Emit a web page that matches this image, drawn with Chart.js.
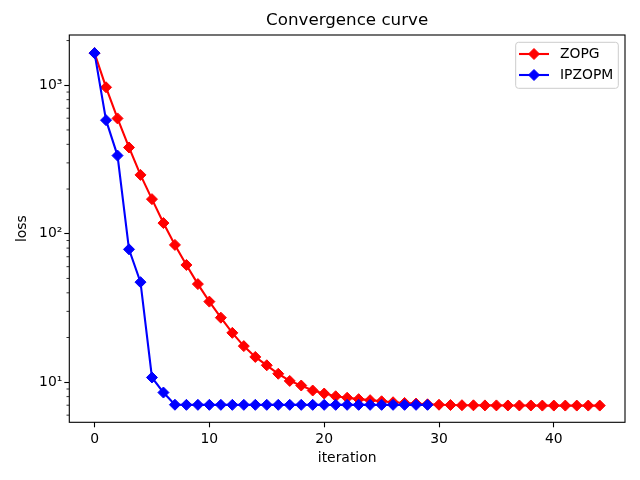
<!DOCTYPE html>
<html>
<head>
<meta charset="utf-8">
<script src="https://cdn.jsdelivr.net/npm/chart.js@4.4.0/dist/chart.umd.min.js"></script>
<style>
    html, body { margin: 0; padding: 0; background: #fff; }
</style>
</head>
<body>
<canvas id="convchart" width="640" height="480"></canvas>
<script>
// loss per iteration (index = iteration)
const zopgLoss = [
    1646, 969, 598, 381, 249, 171, 118, 84.1, 61.6, 45.8,
    34.9, 27.2, 21.5, 17.5, 14.8, 13.0, 11.4, 10.2, 9.50, 8.79,
    8.39, 8.04, 7.86, 7.69, 7.57, 7.44, 7.33, 7.25, 7.18, 7.10,
    7.05, 7.02, 7.0, 6.99, 6.98, 6.98, 6.97, 6.97, 6.97, 6.96,
    6.96, 6.96, 6.96, 6.96, 6.96
];
const ipzopmLoss = [
    1646, 582, 336, 78.5, 47.2, 10.76, 8.52, 7.05, 7.04, 7.04,
    7.04, 7.04, 7.04, 7.04, 7.04, 7.04, 7.04, 7.04, 7.04, 7.04,
    7.04, 7.04, 7.04, 7.04, 7.04, 7.04, 7.04, 7.04, 7.04, 7.04
];

// tick labels
const xTicks = [0, 10, 20, 30, 40];
const yMajor = [10, 100, 1000];
const yLabels = ['10\u00b9', '10\u00b2', '10\u00b3'];

const Y_MIN = 5.37, Y_MAX = 2180;
const FONT = 'DejaVu Sans';

// minor ticks of the log axis (2..9 of each decade)
const yMinor = [];
[1, 10, 100, 1000].forEach(function (d) {
    for (let m = 2; m <= 9; m++) {
        if (m * d > Y_MIN && m * d < Y_MAX) yMinor.push(m * d);
    }
});

Chart.defaults.font.family = FONT;
Chart.defaults.color = '#000';

function toPoints(arr) {
    return arr.map(function (v, i) { return { x: i, y: v }; });
}

function diamond(ctx, x, y, r) {
    ctx.beginPath();
    ctx.moveTo(x, y - r);
    ctx.lineTo(x + r, y);
    ctx.lineTo(x, y + r);
    ctx.lineTo(x - r, y);
    ctx.closePath();
    ctx.fill();
    ctx.stroke();
}

// frame, minor ticks, title and legend drawn the matplotlib way
const mplLook = {
    id: 'mplLook',
    afterDatasetsDraw(chart) {
        const ctx = chart.ctx;
        const a = chart.chartArea;
        const y = chart.scales.y;
        ctx.save();

        ctx.strokeStyle = '#000';
        ctx.lineWidth = 0.8;
        yMinor.forEach(function (v) {
            const py = y.getPixelForValue(v);
            ctx.beginPath();
            ctx.moveTo(a.left, py);
            ctx.lineTo(a.left - 2.8, py);
            ctx.stroke();
        });

        ctx.lineWidth = 1.1;
        ctx.strokeRect(a.left, a.top, a.right - a.left, a.bottom - a.top);

        ctx.fillStyle = '#000';
        ctx.font = '16.7px "' + FONT + '"';
        ctx.textAlign = 'center';
        ctx.textBaseline = 'middle';
        ctx.fillText('Convergence curve', (a.left + a.right) / 2, 21);

        // legend box
        const bw = 102.6, bh = 46;
        const bx = a.right - 6.7 - bw, by = a.top + 7.3;
        ctx.beginPath();
        ctx.roundRect(bx, by, bw, bh, 2.8);
        ctx.fillStyle = 'rgba(255,255,255,0.8)';
        ctx.fill();
        ctx.strokeStyle = '#cccccc';
        ctx.lineWidth = 1;
        ctx.stroke();

        ctx.font = '13.9px "' + FONT + '"';
        ctx.textAlign = 'left';
        chart.data.datasets.forEach(function (ds, i) {
            const ry = by + 11.7 + i * 21;
            ctx.strokeStyle = ds.borderColor;
            ctx.lineWidth = ds.borderWidth;
            ctx.beginPath();
            ctx.moveTo(bx + 3.3, ry);
            ctx.lineTo(bx + 33.3, ry);
            ctx.stroke();
            ctx.fillStyle = ds.pointBackgroundColor;
            ctx.strokeStyle = ds.pointBorderColor;
            ctx.lineWidth = 1;
            diamond(ctx, bx + 18.3, ry, ds.pointRadius);
            ctx.fillStyle = '#000';
            ctx.fillText(ds.label, bx + 44.3, ry);
        });

        ctx.restore();
    }
};

const ctx = document.getElementById('convchart').getContext('2d');
const convchart = new Chart(ctx, {
    type: 'line',
    data: {
        datasets: [{
            label: 'ZOPG',
            data: toPoints(zopgLoss),
            borderColor: '#ff0000',
            backgroundColor: '#ff0000',
            pointBackgroundColor: '#ff0000',
            pointBorderColor: '#ff0000',
            borderWidth: 2.1,
            pointStyle: 'rectRot',
            pointRadius: 5.5,
            pointBorderWidth: 1,
            tension: 0,
            order: 1
        }, {
            label: 'IPZOPM',
            data: toPoints(ipzopmLoss),
            borderColor: '#0000ff',
            backgroundColor: '#0000ff',
            pointBackgroundColor: '#0000ff',
            pointBorderColor: '#0000ff',
            borderWidth: 2.1,
            pointStyle: 'rectRot',
            pointRadius: 5.5,
            pointBorderWidth: 1,
            tension: 0,
            order: 0
        }]
    },
    options: {
        responsive: false,
        animation: false,
        devicePixelRatio: 1,
        layout: { padding: { top: 35, right: 15, left: 0, bottom: 0 } },
        plugins: {
            legend: { display: false },
            title: { display: false },
            tooltip: { enabled: false }
        },
        scales: {
            x: {
                type: 'linear',
                min: -2.2,
                max: 46.2,
                afterBuildTicks: function (s) { s.ticks = xTicks.map(function (v) { return { value: v }; }); },
                afterFit: function (s) { s.height = 57.7; },
                ticks: { font: { size: 13.9 }, padding: 3.5, maxRotation: 0 },
                grid: { drawOnChartArea: false, tickLength: 5, tickColor: '#000', tickWidth: 1.1 },
                border: { display: false },
                title: { display: true, text: 'iteration', font: { size: 13.9 }, padding: { top: 0, bottom: 13.4 } }
            },
            y: {
                type: 'logarithmic',
                min: Y_MIN,
                max: Y_MAX,
                afterBuildTicks: function (s) { s.ticks = yMajor.map(function (v) { return { value: v }; }); },
                afterFit: function (s) { s.width = 69.3; },
                ticks: {
                    font: { size: 13.9 },
                    padding: 2,
                    callback: function (v) { return yLabels[yMajor.indexOf(v)]; }
                },
                grid: { drawOnChartArea: false, tickLength: 5, tickColor: '#000', tickWidth: 1.1 },
                border: { display: false },
                title: { display: true, text: 'loss', font: { size: 13.9 }, padding: { top: 13.9, bottom: 0 } }
            }
        }
    },
    plugins: [mplLook]
});
</script>
</body>
</html>
